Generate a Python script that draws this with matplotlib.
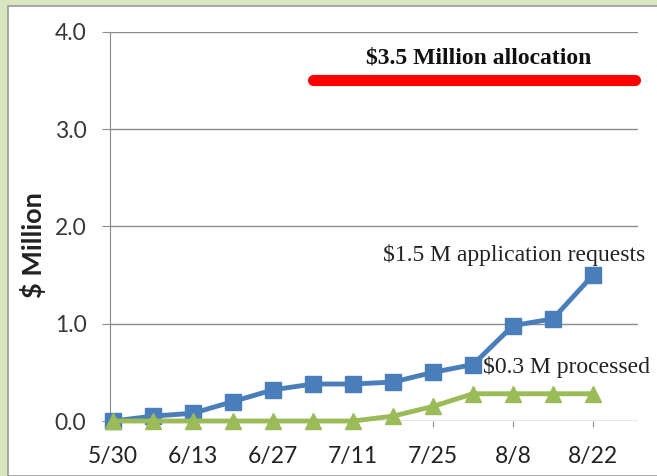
import matplotlib.pyplot as plt
from matplotlib.patches import Rectangle

# weekly dates, labels shown every other week
weeks = ["5/30", "6/6", "6/13", "6/20", "6/27", "7/4", "7/11", "7/18",
         "7/25", "8/1", "8/8", "8/15", "8/22"]
requests = [0.0, 0.05, 0.08, 0.2, 0.32, 0.38, 0.38, 0.4, 0.5, 0.58, 0.98, 1.05, 1.5]
processed = [0.0, 0.0, 0.0, 0.0, 0.0, 0.0, 0.0, 0.05, 0.15, 0.28, 0.28, 0.28, 0.28]
allocation = 3.5
alloc_span = (5.0, 13.05)
y_ticks = [0.0, 1.0, 2.0, 3.0, 4.0]

W, H = 657, 476
fig = plt.figure(figsize=(W / 100, H / 100), dpi=100)
fig.patch.set_facecolor("#d9e6c0")
# white panel
fig.patches.append(Rectangle((8 / W, 0), 1, 1 - 6 / H, transform=fig.transFigure,
                             facecolor="white", edgecolor="#9a9a9a", lw=1.2, zorder=-10))

ax = fig.add_axes([110 / W, 1 - 421 / H, (638 - 110) / W, (421 - 31.7) / H])
ax.set_zorder(1)
ax.set_facecolor("none")
x = list(range(len(weeks)))

ax.set_ylim(0, 4)
ax.set_xlim(-0.075, 13.125)
ax.set_yticks(y_ticks)
ax.set_yticklabels([f"{v:.1f}" for v in y_ticks])
ax.set_xticks(x[::2])
ax.set_xticklabels(weeks[::2])
ax.grid(axis="y", color="#8c8c8c", lw=1)
ax.set_axisbelow(True)
for s in ["top", "right", "bottom"]:
    ax.spines[s].set_visible(False)
ax.spines["left"].set_color("#8c8c8c")
ax.tick_params(axis="y", length=6, color="#8c8c8c", labelsize=16.5, pad=11, labelcolor="#383838")
ax.tick_params(axis="x", length=4, color="#8c8c8c", labelsize=16.5, pad=14, labelcolor="#222222")
for lab in ax.get_xticklabels() + ax.get_yticklabels():
    lab.set_family("Lato")

ax.plot(alloc_span, [allocation, allocation], color="#ff0000", lw=8,
        solid_capstyle="round", zorder=3, clip_on=False)
ax.plot(x, requests, color="#4a7ebb", lw=3.5, marker="s", ms=11, zorder=4, clip_on=False)
ax.plot(x, processed, color="#9bbb59", lw=3.5, marker="^", ms=12, zorder=5, clip_on=False)

ax.text(9.15, 3.73, "$3.5 Million allocation", family="Liberation Serif",
        fontweight="bold", fontsize=17, ha="center", va="center", color="#111111")
ax.text(6.75, 1.71, "$1.5 M application requests", family="Liberation Serif",
        fontsize=17, ha="left", va="center", color="#222222")
ax.text(9.25, 0.555, "$0.3 M processed", family="Liberation Serif",
        fontsize=17, ha="left", va="center", color="#222222", zorder=6)

fig.text(33 / W, 1 - 245 / H, "$ Million", rotation=90, family="Lato",
         fontweight="bold", fontsize=19.5, ha="center", va="center", color="#222222")

fig.savefig("out.png", dpi=100)
